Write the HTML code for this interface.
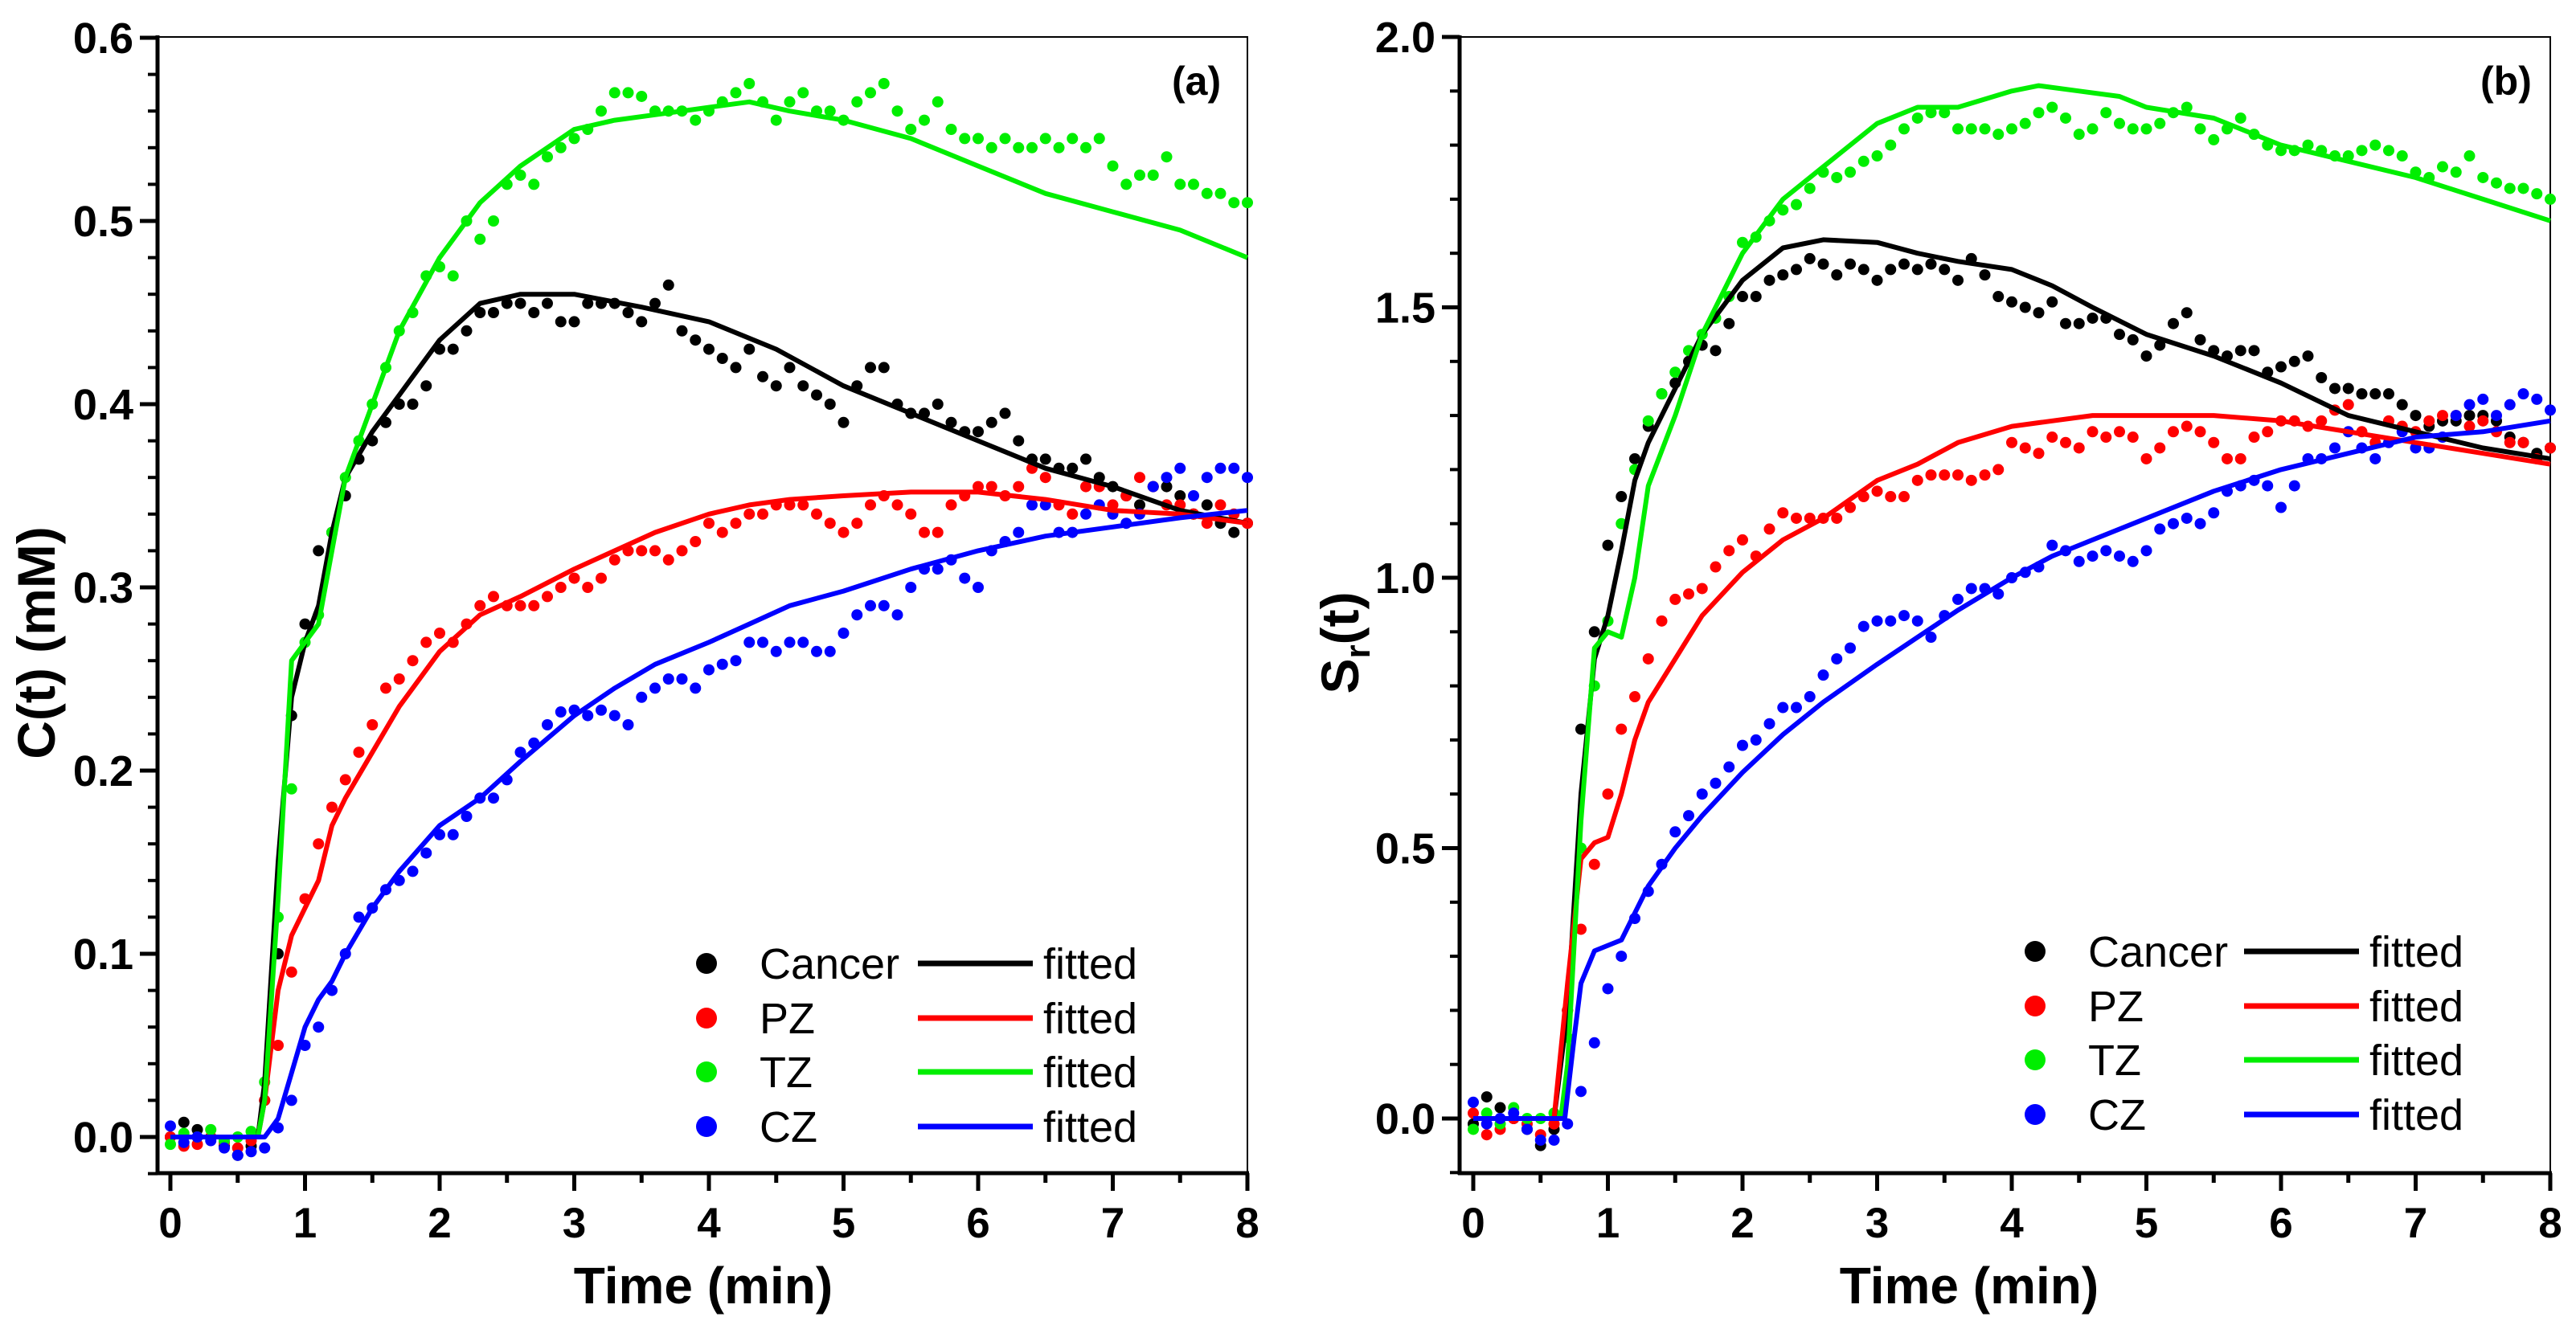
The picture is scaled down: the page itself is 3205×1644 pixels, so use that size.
<!DOCTYPE html>
<html><head><meta charset="utf-8"><style>
html,body{margin:0;padding:0;background:#fff;}
svg{display:block;font-family:"Liberation Sans",Arial,sans-serif;}
</style></head><body>
<svg id="fig" width="3205" height="1644" viewBox="0 0 3205 1644" xmlns="http://www.w3.org/2000/svg"></svg>
<script>
// ---- shared data ----
const dotTimes = [0,0.1,0.2,0.3,0.4,0.5,0.6,0.7,0.8,0.9,1.0,1.1,1.2,1.3,1.4,1.5,1.6,1.7,1.8,1.9,2.0,2.1,2.2,2.3,2.4,2.5,2.6,2.7,2.8,2.9,3.0,3.1,3.2,3.3,3.4,3.5,3.6,3.7,3.8,3.9,4.0,4.1,4.2,4.3,4.4,4.5,4.6,4.7,4.8,4.9,5.0,5.1,5.2,5.3,5.4,5.5,5.6,5.7,5.8,5.9,6.0,6.1,6.2,6.3,6.4,6.5,6.6,6.7,6.8,6.9,7.0,7.1,7.2,7.3,7.4,7.5,7.6,7.7,7.8,7.9,8.0];
const xTicks = [0,1,2,3,4,5,6,7,8];
const seriesNames = ["Cancer","PZ","TZ","CZ"];
const seriesColors = ["#000000","#ff0000","#00ee00","#0000ff"];

// ---- panel (a) C(t) ----
const aCancerDots = [0,0.008,0.004,0,-0.005,-0.01,-0.005,0.02,0.1,0.23,0.28,0.32,0.33,0.35,0.37,0.38,0.39,0.40,0.40,0.41,0.43,0.43,0.44,0.45,0.45,0.455,0.455,0.45,0.455,0.445,0.445,0.455,0.455,0.455,0.45,0.445,0.455,0.465,0.44,0.435,0.43,0.425,0.42,0.43,0.415,0.41,0.42,0.41,0.405,0.40,0.39,0.41,0.42,0.42,0.40,0.395,0.395,0.40,0.39,0.385,0.385,0.39,0.395,0.38,0.37,0.37,0.365,0.365,0.37,0.36,0.355,0.35,0.345,0.355,0.355,0.35,0.34,0.345,0.335,0.33,0.335];
const aPZDots = [0,-0.005,-0.004,0,-0.003,-0.006,-0.002,0.02,0.05,0.09,0.13,0.16,0.18,0.195,0.21,0.225,0.245,0.25,0.26,0.27,0.275,0.27,0.28,0.29,0.295,0.29,0.29,0.29,0.295,0.30,0.305,0.30,0.305,0.315,0.32,0.32,0.32,0.315,0.32,0.325,0.335,0.33,0.335,0.34,0.34,0.345,0.345,0.345,0.34,0.335,0.33,0.335,0.345,0.35,0.345,0.34,0.33,0.33,0.345,0.35,0.355,0.355,0.35,0.355,0.365,0.36,0.345,0.34,0.355,0.355,0.345,0.35,0.36,0.355,0.345,0.345,0.34,0.335,0.345,0.34,0.335];
const aTZDots = [-0.004,0.002,0,0.004,-0.002,0,0.003,0.03,0.12,0.19,0.27,0.285,0.33,0.36,0.38,0.40,0.42,0.44,0.45,0.47,0.475,0.47,0.50,0.49,0.50,0.52,0.525,0.52,0.535,0.54,0.545,0.55,0.56,0.57,0.57,0.568,0.56,0.56,0.56,0.555,0.56,0.565,0.57,0.575,0.565,0.555,0.565,0.57,0.56,0.56,0.555,0.565,0.57,0.575,0.56,0.55,0.555,0.565,0.55,0.545,0.545,0.54,0.545,0.54,0.54,0.545,0.54,0.545,0.54,0.545,0.53,0.52,0.525,0.525,0.535,0.52,0.52,0.515,0.515,0.51,0.51];
const aCZDots = [0.006,-0.003,0,-0.002,-0.006,-0.01,-0.008,-0.006,0.005,0.02,0.05,0.06,0.08,0.10,0.12,0.125,0.135,0.14,0.145,0.155,0.165,0.165,0.175,0.185,0.185,0.195,0.21,0.215,0.225,0.232,0.233,0.23,0.233,0.23,0.225,0.24,0.245,0.25,0.25,0.245,0.255,0.258,0.26,0.27,0.27,0.265,0.27,0.27,0.265,0.265,0.275,0.285,0.29,0.29,0.285,0.30,0.31,0.31,0.315,0.305,0.30,0.32,0.325,0.33,0.345,0.345,0.33,0.33,0.34,0.345,0.34,0.335,0.34,0.355,0.36,0.365,0.35,0.36,0.365,0.365,0.36];
const aCancerFitT = [0,0.65,0.7,0.8,0.9,1.0,1.1,1.2,1.3,1.5,1.7,2.0,2.3,2.6,3.0,3.5,4.0,4.5,5.0,5.5,6.0,6.5,7.0,7.5,8.0];
const aCancerFit  = [0,0,0.03,0.15,0.24,0.27,0.29,0.33,0.36,0.385,0.405,0.435,0.455,0.46,0.46,0.453,0.445,0.43,0.41,0.395,0.38,0.365,0.355,0.342,0.335];
const aFitT = [0,0.65,0.7,0.8,0.9,1.0,1.1,1.2,1.3,1.5,1.7,2.0,2.3,2.6,3.0,3.3,3.6,4.0,4.3,4.6,5.0,5.5,6.0,6.5,7.0,7.5,8.0];
const aTZFit = [0,0,0.02,0.13,0.26,0.27,0.28,0.32,0.36,0.40,0.44,0.48,0.51,0.53,0.55,0.555,0.558,0.562,0.565,0.56,0.555,0.545,0.53,0.515,0.505,0.495,0.48];
const aPZFit = [0,0,0.02,0.08,0.11,0.125,0.14,0.17,0.185,0.21,0.235,0.265,0.285,0.295,0.31,0.32,0.33,0.34,0.345,0.348,0.35,0.352,0.352,0.348,0.342,0.34,0.335];
const aCZFitT = [0,0.7,0.8,0.9,1.0,1.1,1.2,1.3,1.5,1.7,2.0,2.3,2.6,3.0,3.3,3.6,4.0,4.3,4.6,5.0,5.5,6.0,6.5,7.0,7.5,8.0];
const aCZFit = [0,0,0.01,0.035,0.06,0.075,0.085,0.10,0.125,0.145,0.17,0.185,0.205,0.23,0.245,0.258,0.27,0.28,0.29,0.298,0.31,0.32,0.328,0.333,0.338,0.342];
const aYTicks = [0.0,0.1,0.2,0.3,0.4,0.5,0.6];
const aYLabels = ["0.0","0.1","0.2","0.3","0.4","0.5","0.6"];

// ---- panel (b) Sr(t) ----
const bCancerDots = [-0.01,0.04,0.02,0,-0.02,-0.05,-0.02,0.2,0.72,0.9,1.06,1.15,1.22,1.28,1.34,1.36,1.40,1.43,1.42,1.47,1.52,1.52,1.55,1.56,1.57,1.59,1.58,1.56,1.58,1.57,1.55,1.57,1.58,1.57,1.58,1.57,1.55,1.59,1.56,1.52,1.51,1.50,1.49,1.51,1.47,1.47,1.48,1.48,1.45,1.44,1.41,1.43,1.47,1.49,1.44,1.42,1.41,1.42,1.42,1.38,1.39,1.40,1.41,1.37,1.35,1.35,1.34,1.34,1.34,1.32,1.30,1.28,1.29,1.29,1.30,1.30,1.29,1.26,1.25,1.23,1.24];
const bPZDots = [0.01,-0.03,-0.02,0,-0.01,-0.03,-0.01,0.2,0.35,0.47,0.6,0.72,0.78,0.85,0.92,0.96,0.97,0.98,1.02,1.05,1.07,1.04,1.09,1.12,1.11,1.11,1.11,1.11,1.13,1.15,1.16,1.15,1.15,1.18,1.19,1.19,1.19,1.18,1.19,1.20,1.25,1.24,1.23,1.26,1.25,1.24,1.27,1.26,1.27,1.26,1.22,1.24,1.27,1.28,1.27,1.25,1.22,1.22,1.26,1.27,1.29,1.29,1.28,1.29,1.31,1.32,1.27,1.25,1.29,1.28,1.27,1.29,1.30,1.30,1.28,1.29,1.27,1.25,1.25,1.22,1.24];
const bTZDots = [-0.02,0.01,-0.01,0.02,0,0,0.01,0.15,0.5,0.8,0.92,1.1,1.2,1.29,1.34,1.38,1.42,1.45,1.48,1.52,1.62,1.63,1.66,1.68,1.69,1.72,1.75,1.74,1.75,1.77,1.78,1.80,1.83,1.85,1.86,1.86,1.83,1.83,1.83,1.82,1.83,1.84,1.86,1.87,1.85,1.82,1.83,1.86,1.84,1.83,1.83,1.84,1.86,1.87,1.83,1.81,1.83,1.85,1.82,1.80,1.79,1.79,1.80,1.79,1.78,1.78,1.79,1.80,1.79,1.78,1.75,1.74,1.76,1.75,1.78,1.74,1.73,1.72,1.72,1.71,1.70];
const bCZDots = [0.03,-0.01,0,0.01,-0.02,-0.04,-0.04,-0.01,0.05,0.14,0.24,0.30,0.37,0.42,0.47,0.53,0.56,0.60,0.62,0.65,0.69,0.70,0.73,0.76,0.76,0.78,0.82,0.85,0.87,0.91,0.92,0.92,0.93,0.92,0.89,0.93,0.96,0.98,0.98,0.97,1.00,1.01,1.02,1.06,1.05,1.03,1.04,1.05,1.04,1.03,1.05,1.09,1.10,1.11,1.10,1.12,1.16,1.17,1.18,1.17,1.13,1.17,1.22,1.22,1.24,1.27,1.24,1.22,1.25,1.27,1.24,1.24,1.26,1.30,1.32,1.33,1.30,1.32,1.34,1.33,1.31];
const bCancerFitT = [0,0.6,0.7,0.8,0.9,1.0,1.1,1.2,1.3,1.5,1.7,2.0,2.3,2.6,3.0,3.3,3.6,4.0,4.3,4.6,5.0,5.5,6.0,6.5,7.0,7.5,8.0];
const bCancerFit = [0,0,0.2,0.6,0.85,0.93,1.05,1.18,1.25,1.35,1.45,1.55,1.61,1.625,1.62,1.6,1.585,1.57,1.54,1.5,1.45,1.41,1.36,1.3,1.27,1.24,1.22];
const bTZFitT = [0,0.65,0.7,0.8,0.9,1.0,1.1,1.2,1.3,1.5,1.7,2.0,2.3,2.6,3.0,3.3,3.6,4.0,4.2,4.5,4.8,5.0,5.5,6.0,6.5,7.0,7.5,8.0];
const bTZFit = [0,0,0.1,0.55,0.87,0.9,0.89,1.0,1.17,1.3,1.45,1.6,1.7,1.76,1.84,1.87,1.87,1.9,1.91,1.9,1.89,1.87,1.85,1.8,1.77,1.74,1.7,1.66];
const bPZFitT = [0,0.6,0.7,0.8,0.9,1.0,1.1,1.2,1.3,1.5,1.7,2.0,2.3,2.6,3.0,3.3,3.6,4.0,4.3,4.6,5.0,5.5,6.0,6.5,7.0,7.5,8.0];
const bPZFit = [0,0,0.25,0.48,0.51,0.52,0.6,0.7,0.77,0.85,0.93,1.01,1.07,1.11,1.18,1.21,1.25,1.28,1.29,1.3,1.3,1.3,1.29,1.27,1.25,1.23,1.21];
const bCZFitT = [0,0.68,0.75,0.8,0.9,1.0,1.1,1.2,1.3,1.5,1.7,2.0,2.3,2.6,3.0,3.3,3.6,4.0,4.3,4.6,5.0,5.5,6.0,6.5,7.0,7.5,8.0];
const bCZFit = [0,0,0.15,0.25,0.31,0.32,0.33,0.38,0.43,0.5,0.56,0.64,0.71,0.77,0.84,0.89,0.94,1.0,1.04,1.07,1.11,1.16,1.2,1.23,1.26,1.27,1.29];
const bYTicks = [0.0,0.5,1.0,1.5,2.0];
const bYLabels = ["0.0","0.5","1.0","1.5","2.0"];

const NS = "http://www.w3.org/2000/svg";
const svg = document.getElementById('fig');
function mk(tag, attrs, parent) {
  const e = document.createElementNS(NS, tag);
  for (const k in attrs) e.setAttribute(k, attrs[k]);
  (parent || svg).appendChild(e);
  return e;
}

function panel(cfg) {
  const g = mk('g', {});
  
  
  const sx = t => cfg.x0 + (cfg.x8 - cfg.x0) * t / 8;
  const sy = v => cfg.yZero - (cfg.yZero - cfg.yTop) * v / cfg.yMax;
  const L = cfg.axL, R = cfg.x8, T = cfg.top, B = cfg.bottom;
  const fr = mk('rect', {x: L, y: T, width: R - L, height: B - T, fill: 'none', stroke: '#000', 'stroke-width': 2}, g);
  
  
  const ya = mk('line', {x1: L, y1: T - 2, x2: L, y2: B + 2, stroke: '#000', 'stroke-width': 5}, g);
  
  
  const xa = mk('line', {x1: L - 2, y1: B, x2: R + 2, y2: B, stroke: '#000', 'stroke-width': 5}, g);
  
  
  for (let i = 0; i <= 16; i++) {
    const t = i * 0.5, x = sx(t), major = i % 2 === 0;
    const tk = mk('line', {x1: x, y1: B, x2: x, y2: B + (major ? 22 : 12), stroke: '#000', 'stroke-width': 5}, g);
    
    
  }
  xTicks.forEach(t => {
    const tx = mk('text', {x: sx(t), y: 1540, 'font-size': 53, 'font-weight': 'bold', 'text-anchor': 'middle'}, g);
    tx.textContent = String(t);
    
    
  });
  for (let v = cfg.yMinTick; v <= cfg.yMax + 1e-9; v += cfg.yMinor) {
    const y = sy(v);
    if (y > B + 1) continue;
    const tk = mk('line', {x1: L, y1: y, x2: L - 12, y2: y, stroke: '#000', 'stroke-width': 4}, g);
    
    
  }
  cfg.yTicks.forEach((v, i) => {
    const y = sy(v);
    const tk = mk('line', {x1: L, y1: y, x2: L - 22, y2: y, stroke: '#000', 'stroke-width': 5}, g);
    
    
    const tx = mk('text', {x: L - 30, y: y + 19, 'font-size': 54, 'font-weight': 'bold', 'text-anchor': 'end'}, g);
    tx.textContent = cfg.yLabels[i];
    
    
  });
  const cp = mk('clipPath', {id: cfg.name + '-clip'}, g);
  mk('rect', {x: L, y: T, width: R - L + 8, height: B - T}, cp);
  const plot = mk('g', {'clip-path': 'url(#' + cfg.name + '-clip)'}, g);
  
  
  cfg.dots.forEach((arr, si) => {
    const sg = mk('g', {fill: seriesColors[si]}, plot);
    
    
    arr.forEach((v, i) => {
      const c = mk('circle', {cx: sx(dotTimes[i]), cy: sy(v), r: 7}, sg);
      
      
    });
  });
  cfg.fits.forEach((f, si) => {
    const d = f.t.map((t, i) => (i ? 'L' : 'M') + sx(t).toFixed(1) + ',' + sy(f.v[i]).toFixed(1)).join(' ');
    const p = mk('path', {d: d, fill: 'none', stroke: seriesColors[si], 'stroke-width': 6, 'stroke-linejoin': 'round'}, plot);
    
    
  });
  const pl = mk('text', {x: cfg.labelX, y: 118, 'font-size': 50, 'font-weight': 'bold'}, g);
  pl.textContent = cfg.label;
  
  
  const lg = mk('g', {}, g);
  
  
  seriesNames.forEach((n, i) => {
    const y = cfg.legY[i];
    const c = mk('circle', {cx: cfg.legDotX, cy: y, r: 13, fill: seriesColors[i]}, lg);
    
    
    const t = mk('text', {x: cfg.legTextX, y: y + 19, 'font-size': 54}, lg);
    t.textContent = n;
    
    
    const ln = mk('line', {x1: cfg.legLineX1, y1: y, x2: cfg.legLineX2, y2: y, stroke: seriesColors[i], 'stroke-width': 7}, lg);
    
    
    const f = mk('text', {x: cfg.legFitX, y: y + 19, 'font-size': 54}, lg);
    f.textContent = 'fitted';
    
    
  });
  const xt = mk('text', {x: cfg.xTitleX, y: 1622, 'font-size': 64, 'font-weight': 'bold', 'text-anchor': 'middle'}, g);
  xt.textContent = 'Time (min)';
  
  
  const yt = mk('text', {x: 0, y: 0, 'font-size': 66, 'font-weight': 'bold', 'text-anchor': 'middle', transform: 'translate(' + cfg.yTitleX + ',' + cfg.yTitleY + ') rotate(-90)'}, g);
  
  
  if (cfg.sub) {
    const a = mk('tspan', {}, yt); a.textContent = 'S';
    const b = mk('tspan', {dy: 14, 'font-size': 44}, yt); b.textContent = 'r';
    const c = mk('tspan', {dy: -14}, yt); c.textContent = '(t)';
  } else {
    yt.textContent = cfg.yTitle;
  }
}

panel({
  name: 'panel-a', label: '(a)', labelX: 1458,
  x0: 212, x8: 1552, axL: 196, top: 46, bottom: 1460,
  yZero: 1415, yTop: 47, yMax: 0.6, yMinTick: -0.02, yMinor: 0.02,
  yTicks: aYTicks, yLabels: aYLabels,
  dots: [aCancerDots, aPZDots, aTZDots, aCZDots],
  fits: [{t: aCancerFitT, v: aCancerFit}, {t: aFitT, v: aPZFit}, {t: aFitT, v: aTZFit}, {t: aCZFitT, v: aCZFit}],
  legY: [1199, 1267, 1334, 1402], legDotX: 879, legTextX: 945, legLineX1: 1142, legLineX2: 1285, legFitX: 1298,
  yTitle: 'C(t) (mM)', yTitleX: 68, yTitleY: 800, xTitleX: 875
});
panel({
  name: 'panel-b', label: '(b)', labelX: 3086,
  x0: 1833, x8: 3173, axL: 1816, top: 46, bottom: 1460,
  yZero: 1392, yTop: 46, yMax: 2.0, yMinTick: -0.1, yMinor: 0.1,
  yTicks: bYTicks, yLabels: bYLabels,
  dots: [bCancerDots, bPZDots, bTZDots, bCZDots],
  fits: [{t: bCancerFitT, v: bCancerFit}, {t: bPZFitT, v: bPZFit}, {t: bTZFitT, v: bTZFit}, {t: bCZFitT, v: bCZFit}],
  legY: [1184, 1252, 1319, 1387], legDotX: 2532, legTextX: 2598, legLineX1: 2792, legLineX2: 2935, legFitX: 2948,
  sub: true, yTitleX: 1690, yTitleY: 800, xTitleX: 2450
});
</script>
</body></html>
